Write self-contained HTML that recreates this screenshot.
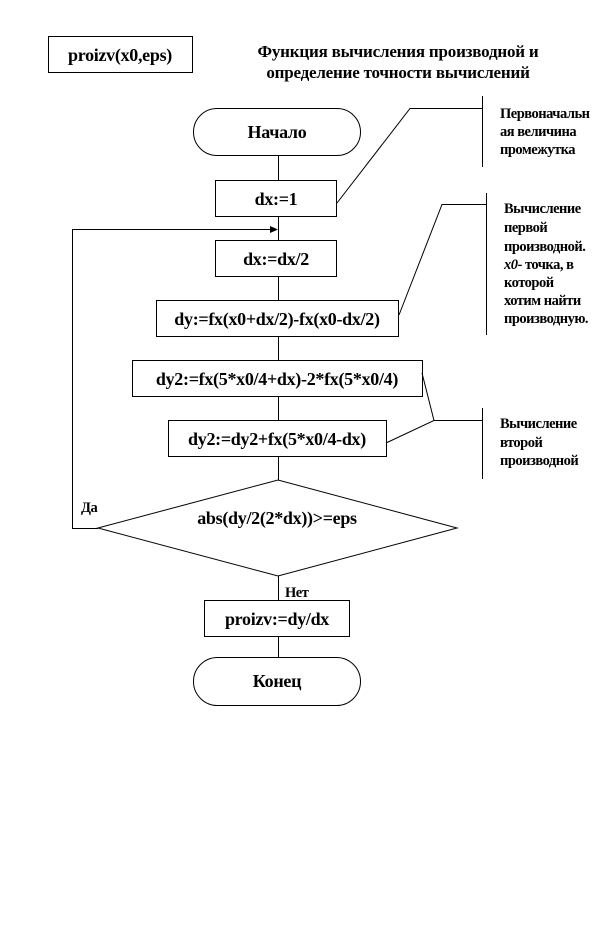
<!DOCTYPE html>
<html><head><meta charset="utf-8"><style>
html,body{margin:0;padding:0;background:#fff;}
svg{display:block;}
text{font-family:"Liberation Serif","DejaVu Serif",serif;font-weight:bold;fill:#000;}
.b{font-size:18px;letter-spacing:-0.3px;}
.t{font-size:17px;letter-spacing:-0.2px;}
.s{font-size:14.5px;letter-spacing:-0.5px;}
</style></head><body>
<svg width="614" height="948" viewBox="0 0 614 948" xmlns="http://www.w3.org/2000/svg">
<g fill="none" stroke="#000" stroke-width="1">
<rect x="48.5" y="36.5" width="144" height="36"/>
<rect x="193.5" y="108.5" width="167" height="47" rx="23.5"/>
<rect x="215.5" y="180.5" width="121" height="36"/>
<rect x="215.5" y="240.5" width="121" height="36"/>
<rect x="156.5" y="300.5" width="242" height="36"/>
<rect x="132.5" y="360.5" width="290" height="36"/>
<rect x="168.5" y="420.5" width="218" height="36"/>
<polygon points="98,528 278,480 457,528 278,576"/>
<rect x="204.5" y="600.5" width="145" height="36"/>
<rect x="193.5" y="657.5" width="167" height="48" rx="24"/>
<line x1="278.5" y1="156" x2="278.5" y2="180"/>
<line x1="278.5" y1="216" x2="278.5" y2="240"/>
<line x1="278.5" y1="276" x2="278.5" y2="300"/>
<line x1="278.5" y1="336" x2="278.5" y2="360"/>
<line x1="278.5" y1="396" x2="278.5" y2="420"/>
<line x1="278.5" y1="456" x2="278.5" y2="480"/>
<line x1="278.5" y1="576" x2="278.5" y2="600"/>
<line x1="278.5" y1="636" x2="278.5" y2="657"/>
<polyline points="98,528.5 72.5,528.5 72.5,229.5 272,229.5"/>
<polyline points="337,203 410,108.5 482,108.5"/>
<line x1="482.5" y1="96" x2="482.5" y2="167"/>
<polyline points="399,315 442,204.5 486,204.5"/>
<line x1="486.5" y1="193" x2="486.5" y2="335"/>
<polyline points="422,373 434,420.5 386,443"/>
<line x1="434" y1="420.5" x2="482" y2="420.5"/>
<line x1="482.5" y1="408" x2="482.5" y2="479"/>
</g>
<polygon points="278,229.5 270,226 270,233" fill="#000"/>
<text class="b" x="120" y="61" text-anchor="middle">proizv(x0,eps)</text>
<text class="t" x="398" y="57" text-anchor="middle">Функция вычисления производной и</text>
<text class="t" x="398" y="78" text-anchor="middle">определение точности вычислений</text>
<text class="b" x="277" y="138" text-anchor="middle">Начало</text>
<text class="b" x="276" y="205" text-anchor="middle">dx:=1</text>
<text class="b" x="276" y="265" text-anchor="middle">dx:=dx/2</text>
<text class="b" x="277" y="325" text-anchor="middle">dy:=fx(x0+dx/2)-fx(x0-dx/2)</text>
<text class="b" x="277" y="385" text-anchor="middle">dy2:=fx(5*x0/4+dx)-2*fx(5*x0/4)</text>
<text class="b" x="277" y="445" text-anchor="middle">dy2:=dy2+fx(5*x0/4-dx)</text>
<text class="b" x="277" y="524" text-anchor="middle">abs(dy/2(2*dx))&gt;=eps</text>
<text class="b" x="277" y="625" text-anchor="middle">proizv:=dy/dx</text>
<text class="b" x="277" y="687" text-anchor="middle">Конец</text>
<text class="s" x="81" y="512">Да</text>
<text class="s" x="285" y="597">Нет</text>
<text class="s" x="500" y="118">Первоначальн</text>
<text class="s" x="500" y="136">ая величина</text>
<text class="s" x="500" y="154">промежутка</text>
<text class="s" x="504" y="213">Вычисление</text>
<text class="s" x="504" y="232">первой</text>
<text class="s" x="504" y="251">производной.</text>
<text class="s" x="504" y="269"><tspan font-style="italic">x0</tspan>- точка, в</text>
<text class="s" x="504" y="287">которой</text>
<text class="s" x="504" y="305">хотим найти</text>
<text class="s" x="504" y="323">производную.</text>
<text class="s" x="500" y="428">Вычисление</text>
<text class="s" x="500" y="447">второй</text>
<text class="s" x="500" y="465">производной</text>
</svg>
</body></html>
